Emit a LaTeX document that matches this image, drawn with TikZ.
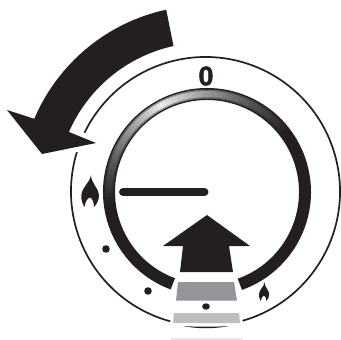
\documentclass[tikz,border=0pt]{standalone}
\usepackage{fontspec}
\usetikzlibrary{calc}
\setmainfont{Liberation Sans}[BoldFeatures={FakeBold=1.6}]
\definecolor{ink}{HTML}{231F20}
\definecolor{bandA}{HTML}{939598}
\definecolor{bandB}{HTML}{BCBEC0}
\definecolor{bandC}{HTML}{E6E7E8}
\tikzset{
  rimline/.style={draw=ink,line width=1.7pt},
  dotmark/.style={fill=ink,draw=none},
  flame/.pic={
    \fill[ink] (1,32) .. controls (0,24) and (-8.5,20) .. (-8.7,11)
      .. controls (-8.8,7) and (-7.5,3) .. (-5.5,0)
      .. controls (-5,4) and (-3,9) .. (0,9.5)
      .. controls (2.5,9) and (4,4) .. (4,0)
      .. controls (7,3) and (9,7) .. (9,12)
      .. controls (9,18) and (1,24) .. (1,32) -- cycle;
  }
}
\begin{document}
\begin{tikzpicture}[x=1pt,y=1pt]
\useasboundingbox (0,0) rectangle (341,-340);
\coordinate (C) at (205.5,-191.5);
\coordinate (R) at (207,-192);
% outer rim
\draw[rimline] (C) ++(-74:134.5) arc (-74:254.8:134.5);
% big arrow with white halo
\path[fill=ink,draw=white,line width=10pt,line join=miter]
  (C) ++(102.2:186) arc (102.2:157:186)
  -- (7,-110) -- (42,-154) -- (96,-143) -- (69,-132)
  -- ($(C)+(156.5:149)$) arc (156.5:102.4:149) -- cycle;
\fill[ink]
  (C) ++(102.2:186) arc (102.2:157:186)
  -- (7,-110) -- (42,-154) -- (96,-143) -- (69,-132)
  -- ($(C)+(156.5:149)$) arc (156.5:102.4:149) -- cycle;
% zero
\node[font=\bfseries,scale=2.7,inner sep=0pt,text=ink] (zero) at (206,-76) {0};
% ring
\draw[ink,line width=12pt] (R) ++(249.6:98) arc (249.6:-70.4:98);
\foreach \a in {40,42,...,220}{
  \pgfmathsetmacro{\hh}{\a>118 ? max(0,1-(\a-118)/72) : max(0,1-(118-\a)/85)}
  \pgfmathsetmacro{\pp}{100-92*\hh^1.3}
  \pgfmathsetmacro{\qq}{100-55*\hh^1.3}
  \draw[ink!\qq!white,line width=9pt] (R) ++(\a+1.2:98) arc (\a+1.2:\a-1.2:98);
  \draw[ink!\pp!white,line width=6pt] (R) ++(\a+1.2:98) arc (\a+1.2:\a-1.2:98);
}
% handle
\coordinate (hA) at (123,-192);
\coordinate (hB) at (204.5,-192);
\draw[ink,line width=8pt,line cap=round] (hA) -- (hB);
% up arrow
\fill[ink] (207,-215) -- (250,-246) -- (229,-246) -- (233,-272) -- (180,-272) -- (183,-246) -- (163,-246) -- cycle;
% bands
\fill[bandA] (178,-282) -- (234,-282) -- (237,-300.5) -- (176,-300.5) -- cycle;
\fill[bandB] (174,-313) -- (239,-313) -- (240,-323) -- (173,-323) -- cycle;
\fill[bandC] (171,-338) rectangle (243,-340);
\fill[dotmark] (206,-306.5) ellipse (3.8 and 3.2);
\fill[ink] (183,-326) .. controls (198,-327) and (214,-327) .. (229,-326) .. controls (214,-329) and (198,-329) .. (183,-326) -- cycle;
% dots
\fill[dotmark] (106,-249) circle (3.8);
\fill[dotmark] (148,-291) circle (3.8);
% flames
\pic at (90,-207) {flame};
\pic[scale=0.58] at (264,-301) {flame};
\end{tikzpicture}
\end{document}
